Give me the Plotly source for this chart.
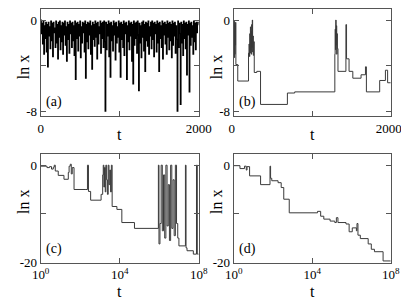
import plotly.graph_objects as go

# ---------------- data ----------------
# panel (a): ln x sampled every 8 time steps, t = 0 .. 2000
a_vals = [
 0, -1.2, -0.3, -2.1, -0.1, -3.0, -0.5, -1.6, -0.2, -2.8, -0.4, -4.1, -0.2, -1.4, -0.6, -2.5, -0.1, -1.8, -0.3, -3.2, -0.2, -1.1, -0.7, -2.4, -0.1,
 -2.0, -0.4, -3.4, -0.2, -1.5, -0.1, -2.6, -0.5, -1.9, -0.2, -3.0, -0.3, -1.3, -0.1, -2.2, -0.6, -3.6, -0.2, -1.7, -0.4, -2.9, -0.1, -1.2, -0.3, -2.4,
 -0.2, -1.8, -0.5, -3.1, -0.1, -5.2, -0.3, -1.6, -0.2, -2.7, -0.4, -1.4, -0.1, -3.3, -0.6, -2.0, -0.2, -1.1, -0.3, -2.8, -0.1, -5.1, -0.4, -1.9, -0.2,
 -2.5, -0.3, -1.3, -0.1, -3.0, -0.5, -4.3, -0.2, -1.7, -0.4, -2.3, -0.1, -1.5, -0.3, -3.4, -0.2, -2.1, -0.6, -1.2, -0.1, -2.9, -0.3, -1.6, -0.2, -2.4,
 -0.1, -1.9, -8.0, -0.2, -2.6, -0.4, -1.4, -0.1, -3.2, -0.3, -5.0, -0.2, -1.8, -0.5, -2.7, -0.1, -1.3, -0.3, -3.5, -0.2, -2.0, -0.6, -1.5, -0.1, -2.8,
 -0.3, -5.0, -0.2, -1.7, -0.4, -2.4, -0.1, -3.1, -0.3, -1.2, -0.2, -5.2, -0.5, -1.9, -0.1, -2.6, -0.3, -1.4, -0.2, -3.6, -0.4, -5.6, -0.1, -2.2, -0.3,
 -1.6, -0.2, -2.9, -0.1, -1.3, -6.2, -0.3, -2.0, -0.5, -3.3, -0.2, -1.5, -0.1, -2.7, -0.4, -4.5, -0.2, -1.8, -0.3, -2.3, -0.1, -3.0, -0.6, -1.4, -0.2,
 -2.5, -0.1, -1.7, -0.3, -3.2, -0.2, -1.2, -0.4, -2.8, -0.1, -2.0, -0.3, -4.5, -0.2, -1.6, -0.5, -2.4, -0.1, -3.4, -0.3, -1.3, -0.2, -2.1, -0.4, -3.0,
 -0.1, -1.5, -0.3, -2.6, -0.2, -1.8, -0.4, -3.3, -0.1, -2.2, -0.3, -1.4, -0.2, -2.9, -0.5, -1.7, -8.0, -0.1, -2.4, -0.3, -1.2, -7.4, -0.2, -2.0, -0.4,
 -3.1, -0.1, -1.6, -0.3, -2.5, -0.2, -4.8, -0.4, -1.3, -0.1, -6.3, -0.3, -2.2, -0.2, -1.5, -0.5, -3.0, -0.1, -1.9, -0.3, -2.6, -0.2, -1.1, -0.4, -0.2,
 -0.3,
]
a_t = [8 * i for i in range(len(a_vals))]

# panel (b): step changes (t, ln x)
b_t = [0, 3, 6, 9, 12, 15, 18, 21, 24, 28, 52, 189, 195, 201, 205, 209, 213, 217, 221, 225, 229, 233, 237, 241, 246, 250, 255, 262, 294, 342,
       684, 777, 1288, 1292, 1296, 1300, 1304, 1308, 1312, 1316, 1320, 1328, 1429, 1437, 1469, 1517, 1622, 1678, 1690, 1859, 1932, 1960, 2000]
b_v = [-0.3, -2.5, -0.1, -3.3, -1.0, -3.0, -0.5, -2.2, -0.2, -3.9, -5.35, -2.9, -2.1, -3.2, -1.2, -2.9, -0.6, -2.6, -1.0, -3.0, -0.4, -2.4, 0.0, -2.8, -1.4, -3.1, -1.9, -4.6, -4.5, -7.4,
       -6.4, -6.3, -3.0, -0.8, -2.6, 0.0, -2.2, -0.5, -3.0, -1.2, -2.5, -4.5, -0.4, -3.4, -4.5, -5.1, -4.8, -4.1, -6.3, -5.3, -4.4, -5.5, -5.5]

# panel (c): log10(t) of step changes and ln x
c_logt = [0.0, 0.32, 0.45, 0.55, 0.64, 0.69, 0.74, 0.89, 1.18, 1.40, 1.44, 1.50, 1.55, 1.60, 1.69, 2.25, 2.37, 2.42, 2.53, 3.06, 3.14,
          3.17, 3.20, 3.23, 3.27, 3.30, 3.34, 3.38, 3.42, 3.46, 3.50, 3.54, 3.58, 3.62, 3.86, 4.11, 4.75, 5.96, 5.99, 6.04,
          6.10, 6.16, 6.22, 6.28, 6.34, 6.40, 6.46, 6.52, 6.58, 6.64, 6.70, 6.76, 6.82, 6.88, 6.94, 7.00, 7.33, 7.36, 7.41, 7.73, 7.89, 7.93, 8.0]
c_v = [-0.2, -0.5, -0.3, -0.8, -0.4, 0.0, -1.2, -2.1, -2.9, -1.5, -0.2, 0.2, -1.8, -0.5, -5.0, -5.0, 0.0, -5.4, -7.2, -6.0, -2.0,
       0.0, -4.5, -0.5, -5.5, 0.0, -3.0, -6.0, 0.0, -4.0, -1.0, -5.5, 0.0, -8.5, -9.1, -11.8, -13.0, 0.0, -16.2, -12.0,
       0.0, -13.5, -2.0, -15.0, 0.0, -12.5, -4.0, -15.5, 0.0, -13.0, -3.0, -14.5, 0.0, -12.0, -15.0, -16.6, 0.0, -17.0, -17.6, -18.3, 0.0, -18.3, -18.3]

# panel (d): log10(t) of step changes and ln x
d_logt = [0.0, 0.32, 0.55, 0.64, 0.68, 0.81, 1.37, 1.85, 1.88, 1.94, 2.26, 2.42, 2.55, 2.83, 4.27, 4.43, 4.59, 4.91, 5.15, 5.23,
          5.31, 5.72, 5.88, 6.04, 6.25, 6.28, 6.33, 6.45, 6.85, 7.01, 7.17, 7.61, 8.0]
d_v = [-0.1, -0.7, -0.2, -1.0, -0.3, -2.2, -4.0, -0.2, -2.7, -3.2, -3.6, -4.6, -7.0, -9.8, -9.5, -10.5, -11.1, -11.5, -11.8, -10.8,
       -11.8, -12.1, -13.7, -12.9, -13.5, -12.0, -14.4, -15.1, -16.2, -17.3, -17.8, -19.7, -19.7]

c_t = [10 ** e for e in c_logt]
d_t = [10 ** e for e in d_logt]

lin_ticks = [0, 1000, 2000]
lin_ticktext = ["0", "", "2000"]
log_ticks = [1, 1e4, 1e8]
log_ticktext = ["10<sup>0</sup>", "10<sup>4</sup>", "10<sup>8</sup>"]
ya_ticks = [0, -4, -8]
ya_ticktext = ["0", "", "-8"]
yc_ticks = [0, -10, -20]
yc_ticktext = ["0", "", "-20"]
panel_labels = ["(a)", "(b)", "(c)", "(d)"]

# ---------------- figure ----------------
W, H = 409, 299
SERIF = "Liberation Serif, Times New Roman, serif"
line = dict(color="#3a3a3a", width=1)
fig = go.Figure()
fig.add_trace(go.Scatter(x=a_t, y=a_vals, mode="lines", line=dict(color="black", width=1.2), line_shape="hv", xaxis="x", yaxis="y"))
fig.add_trace(go.Scatter(x=b_t, y=b_v, mode="lines", line=line, line_shape="hv", xaxis="x2", yaxis="y2"))
fig.add_trace(go.Scatter(x=c_t, y=c_v, mode="lines", line=line, line_shape="hv", xaxis="x3", yaxis="y3"))
fig.add_trace(go.Scatter(x=d_t, y=d_v, mode="lines", line=line, line_shape="hv", xaxis="x4", yaxis="y4"))

xl = [25 / W, 192 / W]
xr = [229 / W, 395 / W]
yt = [1 - 111 / H, 1 - 1 / H]
yb = [1 - 261 / H, 1 - 150 / H]

font = dict(family=SERIF, size=13, color="black")
common = dict(showline=True, linecolor="#555", linewidth=1, mirror="ticks", ticks="inside",
              ticklen=5, tickcolor="#555", showgrid=False, zeroline=False, tickfont=font)

fig.update_layout(
    width=W, height=H, margin=dict(l=0, r=0, t=0, b=0),
    paper_bgcolor="white", plot_bgcolor="white", showlegend=False,
    font=dict(family=SERIF),
    xaxis=dict(domain=xl, range=[0, 2000], anchor="y", tickvals=lin_ticks, ticktext=lin_ticktext, **common),
    yaxis=dict(domain=yt, range=[-8.45, 0.97], anchor="x", tickvals=ya_ticks, ticktext=ya_ticktext, **common),
    xaxis2=dict(domain=xr, range=[0, 2000], anchor="y2", tickvals=lin_ticks, ticktext=lin_ticktext,
                ticklabelshift=-2, **common),
    yaxis2=dict(domain=yt, range=[-8.45, 0.97], anchor="x2", tickvals=ya_ticks, ticktext=ya_ticktext, **common),
    xaxis3=dict(domain=xl, type="log", range=[0, 8], anchor="y3", tickvals=log_ticks, ticktext=log_ticktext, **common),
    yaxis3=dict(domain=yb, range=[-20.1, 2.2], anchor="x3", tickvals=yc_ticks, ticktext=yc_ticktext, **common),
    xaxis4=dict(domain=xr, type="log", range=[0, 8], anchor="y4", tickvals=log_ticks, ticktext=log_ticktext, **common),
    yaxis4=dict(domain=yb, range=[-20.1, 2.2], anchor="x4", tickvals=yc_ticks, ticktext=yc_ticktext, **common),
)

title_font = dict(family=SERIF, size=16, color="black")
ann = []
# x titles "t"
for cx in [(25 + 192) / 2, (229 + 395) / 2]:
    ann.append(dict(x=cx / W, y=1 - 130 / H, xref="paper", yref="paper", text="t", showarrow=False,
                    xanchor="center", yanchor="middle", font=title_font))
    ann.append(dict(x=cx / W, y=1 - 290.5 / H, xref="paper", yref="paper", text="t", showarrow=False,
                    xanchor="center", yanchor="middle", font=title_font))
# y titles "ln x"
for lx in [7, 211]:
    ann.append(dict(x=lx / W, y=1 - 61 / H, xref="paper", yref="paper", text="ln x", textangle=-90, showarrow=False,
                    xanchor="center", yanchor="middle", font=title_font))
    ann.append(dict(x=lx / W, y=1 - 199 / H, xref="paper", yref="paper", text="ln x", textangle=-90, showarrow=False,
                    xanchor="center", yanchor="middle", font=title_font))
# panel labels
for i, lab in enumerate(panel_labels):
    xs = ["x", "x2", "x3", "x4"][i]
    ys = ["y", "y2", "y3", "y4"][i]
    ann.append(dict(x=0.02, y=0.13, xref=xs + " domain", yref=ys + " domain", text=lab, xanchor="left", yanchor="middle",
                    showarrow=False, font=dict(family=SERIF, size=14, color="black")))
fig.update_layout(annotations=ann)

fig.write_html("out.html")
